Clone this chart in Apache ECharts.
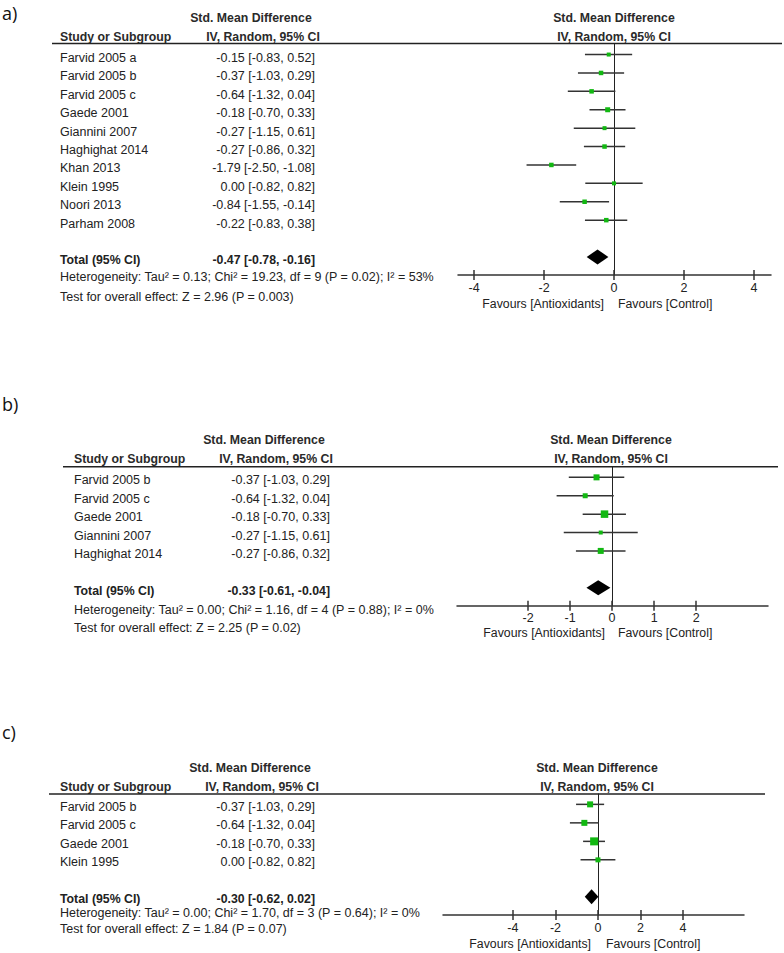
<!DOCTYPE html>
<html><head><meta charset="utf-8">
<script src="https://cdn.jsdelivr.net/npm/echarts@6/dist/echarts.min.js"></script>
<style>html,body{margin:0;padding:0;background:#fff}#c{width:784px;height:953px}</style>
</head><body><div id="c"></div>
<script>
// ---------- Panel a ----------
const studiesA = ['Farvid 2005 a','Farvid 2005 b','Farvid 2005 c','Gaede 2001','Giannini 2007','Haghighat 2014','Khan 2013','Klein 1995','Noori 2013','Parham 2008'];
const smdA   = [-0.15,-0.37,-0.64,-0.18,-0.27,-0.27,-1.79, 0.00,-0.84,-0.22];
const lowerA = [-0.83,-1.03,-1.32,-0.70,-1.15,-0.86,-2.50,-0.82,-1.55,-0.83];
const upperA = [ 0.52, 0.29, 0.04, 0.33, 0.61, 0.32,-1.08, 0.82,-0.14, 0.38];
const boxA   = [4, 4.5, 4.5, 5, 4, 4.5, 4.5, 4, 4.5, 4.5];
const totalA = [-0.47,-0.78,-0.16];
const hetA  = 'Heterogeneity: Tau² = 0.13; Chi² = 19.23, df = 9 (P = 0.02); I² = 53%';
const testA = 'Test for overall effect: Z = 2.96 (P = 0.003)';
const ticksA = [-4,-2,0,2,4];

// ---------- Panel b ----------
const studiesB = ['Farvid 2005 b','Farvid 2005 c','Gaede 2001','Giannini 2007','Haghighat 2014'];
const smdB   = [-0.37,-0.64,-0.18,-0.27,-0.27];
const lowerB = [-1.03,-1.32,-0.70,-1.15,-0.86];
const upperB = [ 0.29, 0.04, 0.33, 0.61, 0.32];
const boxB   = [6, 5, 7.5, 4, 6];
const totalB = [-0.33,-0.61,-0.04];
const hetB  = 'Heterogeneity: Tau² = 0.00; Chi² = 1.16, df = 4 (P = 0.88); I² = 0%';
const testB = 'Test for overall effect: Z = 2.25 (P = 0.02)';
const ticksB = [-2,-1,0,1,2];

// ---------- Panel c ----------
const studiesC = ['Farvid 2005 b','Farvid 2005 c','Gaede 2001','Klein 1995'];
const smdC   = [-0.37,-0.64,-0.18, 0.00];
const lowerC = [-1.03,-1.32,-0.70,-0.82];
const upperC = [ 0.29, 0.04, 0.33, 0.82];
const boxC   = [6, 6, 8, 5];
const totalC = [-0.30,-0.62, 0.02];
const hetC  = 'Heterogeneity: Tau² = 0.00; Chi² = 1.70, df = 3 (P = 0.64); I² = 0%';
const testC = 'Test for overall effect: Z = 1.84 (P = 0.07)';
const ticksC = [-4,-2,0,2,4];

const panelLabels = ['a)','b)','c)'];
const hdr1 = 'Std. Mean Difference';
const hdr2 = 'IV, Random, 95% CI';
const hdrStudy = 'Study or Subgroup';
const totalLabel = 'Total (95% CI)';
const favLeft = 'Favours [Antioxidants]';
const favRight = 'Favours [Control]';

const FONT = '"Liberation Sans", Arial, sans-serif';
const REG = '12.5px ' + FONT;
const BOLD = 'bold 12.3px ' + FONT;
const PLOT = '12.3px ' + FONT;
const TXT = '#222';

const panels = [
  {lab:panelLabels[0], labY:13, studies:studiesA, smd:smdA, lo:lowerA, hi:upperA, box:boxA, total:totalA, het:hetA, test:testA, ticks:ticksA,
   grid:{left:458, right:13, top:43.5, bottom:678}, xMin:-4.46, xMax:4.49, yMin:-0.6, yMax:11.98, totalRow:11,
   textL:60, ciR:315, off:3.5, hdrLX:251, hdrRX:614, hY1:18, hY2:37, ruleX1:52, ruleX2:782, ruleY:43.5,
   hetY:277, testY:297, favY:304, favLX:604, favRX:618},
  {lab:panelLabels[1], labY:404, studies:studiesB, smd:smdB, lo:lowerB, hi:upperB, box:boxB, total:totalB, het:hetB, test:testB, ticks:ticksB,
   grid:{left:457, right:16, top:466.7, bottom:347.3}, xMin:-3.69, xMax:3.71, yMin:-0.58, yMax:6.98, totalRow:6,
   textL:74, ciR:330, off:3, hdrLX:264, hdrRX:611, hY1:440, hY2:459, ruleX1:63, ruleX2:778, ruleY:466.7,
   hetY:610, testY:628, favY:633, favLX:605, favRX:618},
  {lab:panelLabels[2], labY:732, studies:studiesC, smd:smdC, lo:lowerC, hi:upperC, box:boxC, total:totalC, het:hetC, test:testC, ticks:ticksC,
   grid:{left:443, right:40, top:794, bottom:38}, xMin:-7.29, xMax:6.87, yMin:-0.56, yMax:5.98, totalRow:5,
   textL:60, ciR:315, off:2.5, hdrLX:250, hdrRX:597, hY1:768, hY2:786.5, ruleX1:49, ruleX2:765, ruleY:794,
   hetY:913, testY:928.5, favY:944, favLX:591, favRX:606}
];

const fmt = v => v.toFixed(2);
const ciText = (e,l,h) => fmt(e) + ' [' + fmt(l) + ', ' + fmt(h) + ']';

const grids = [], xAxes = [], yAxes = [], series = [], graphic = [];

panels.forEach((p, k) => {
  grids.push(Object.assign({containLabel:false}, p.grid));
  const axisCommon = {type:'value', gridIndex:k, min:p.xMin, max:p.xMax, splitLine:{show:false}};
  xAxes.push(Object.assign({}, axisCommon, {
    position:'bottom',
    axisLine:{show:true, onZero:false, lineStyle:{color:'#333', width:1.5}},
    axisTick:{show:true, inside:false, length:5, customValues:p.ticks, lineStyle:{color:'#333', width:1.5}},
    axisLabel:{show:true, customValues:p.ticks, margin:6, fontSize:12.5, fontFamily:FONT, color:TXT}
  }));
  xAxes.push(Object.assign({}, axisCommon, {
    position:'bottom',
    axisLine:{show:false, onZero:false},
    axisTick:{show:true, inside:true, length:5, customValues:p.ticks, lineStyle:{color:'#333', width:1.5}},
    axisLabel:{show:false}
  }));
  yAxes.push({type:'value', gridIndex:k, inverse:true, min:p.yMin, max:p.yMax,
    axisLine:{show:true, onZero:true, onZeroAxisIndex:2*k, lineStyle:{color:'#222', width:1}},
    axisTick:{show:false}, axisLabel:{show:false}, splitLine:{show:false}});

  const rows = p.studies.map((s,i) => [p.smd[i], i, p.lo[i], p.hi[i]]);
  // CI lines
  series.push({type:'custom', xAxisIndex:2*k, yAxisIndex:k, clip:false, silent:true,
    encode:{x:[0,2,3], y:1}, data:rows,
    renderItem:(params, api) => {
      const a = api.coord([api.value(2), api.value(1)]);
      const b = api.coord([api.value(3), api.value(1)]);
      return {type:'line', shape:{x1:a[0], y1:a[1], x2:b[0], y2:b[1]}, style:{stroke:'#333', lineWidth:1.5}};
    }});
  // Study markers
  series.push({type:'scatter', xAxisIndex:2*k, yAxisIndex:k, silent:true, symbol:'rect',
    data:p.studies.map((s,i) => [p.smd[i], i, p.box[i]]),
    symbolSize: v => v[2], itemStyle:{color:'#12b812', opacity:1}, z:3});
  // Pooled diamond
  series.push({type:'custom', xAxisIndex:2*k, yAxisIndex:k, clip:false, silent:true,
    encode:{x:[0,2,3], y:1}, data:[[p.total[0], p.totalRow, p.total[1], p.total[2]]],
    renderItem:(params, api) => {
      const c = api.coord([api.value(0), api.value(1)]);
      const l = api.coord([api.value(2), api.value(1)]);
      const r = api.coord([api.value(3), api.value(1)]);
      return {type:'polygon', shape:{points:[l, [c[0], c[1]-7.5], r, [c[0], c[1]+7.5]]}, style:{fill:'#000'}};
    }, z:4});
  // Table text, aligned to row positions
  const textRows = p.studies.map((s,i) => [0, i]).concat([[0, p.totalRow]]);
  series.push({type:'custom', xAxisIndex:2*k, yAxisIndex:k, clip:false, silent:true,
    encode:{x:0, y:1}, data:textRows,
    renderItem:(params, api) => {
      const idx = params.dataIndex;
      const y = api.coord([0, api.value(1)])[1] + p.off;
      const isTotal = idx >= p.studies.length;
      const name = isTotal ? totalLabel : p.studies[idx];
      const ci = isTotal ? ciText(p.total[0], p.total[1], p.total[2]) : ciText(p.smd[idx], p.lo[idx], p.hi[idx]);
      const font = isTotal ? BOLD : REG;
      return {type:'group', children:[
        {type:'text', style:{text:name, x:p.textL, y:y, textAlign:'left', textVerticalAlign:'middle', font:font, fill:TXT}},
        {type:'text', style:{text:ci, x:p.ciR, y:y, textAlign:'right', textVerticalAlign:'middle', font:font, fill:TXT}}
      ]};
    }});

  // Static texts and rules
  graphic.push({type:'text', style:{text:p.lab, x:2, y:p.labY, textVerticalAlign:'middle', font:'18px "Open Sans", sans-serif', fill:'#111'}});
  graphic.push({type:'text', style:{text:hdr1, x:p.hdrLX, y:p.hY1, textAlign:'center', textVerticalAlign:'middle', font:BOLD, fill:'#2a2a2a'}});
  graphic.push({type:'text', style:{text:hdr2, x:p.hdrLX+12, y:p.hY2, textAlign:'center', textVerticalAlign:'middle', font:BOLD, fill:'#2a2a2a'}});
  graphic.push({type:'text', style:{text:hdrStudy, x:p.textL, y:p.hY2, textAlign:'left', textVerticalAlign:'middle', font:BOLD, fill:'#2a2a2a'}});
  graphic.push({type:'text', style:{text:hdr1, x:p.hdrRX, y:p.hY1, textAlign:'center', textVerticalAlign:'middle', font:BOLD, fill:'#2a2a2a'}});
  graphic.push({type:'text', style:{text:hdr2, x:p.hdrRX, y:p.hY2, textAlign:'center', textVerticalAlign:'middle', font:BOLD, fill:'#2a2a2a'}});
  graphic.push({type:'line', shape:{x1:p.ruleX1, y1:p.ruleY, x2:p.ruleX2, y2:p.ruleY}, style:{stroke:'#222', lineWidth:1.5}});
  graphic.push({type:'text', style:{text:p.het, x:p.textL, y:p.hetY, textAlign:'left', textVerticalAlign:'middle', font:REG, fill:TXT}});
  graphic.push({type:'text', style:{text:p.test, x:p.textL, y:p.testY, textAlign:'left', textVerticalAlign:'middle', font:REG, fill:TXT}});
  graphic.push({type:'text', style:{text:favLeft, x:p.favLX, y:p.favY, textAlign:'right', textVerticalAlign:'middle', font:PLOT, fill:TXT}});
  graphic.push({type:'text', style:{text:favRight, x:p.favRX, y:p.favY, textAlign:'left', textVerticalAlign:'middle', font:PLOT, fill:TXT}});
});

const chart = echarts.init(document.getElementById('c'), null, {renderer:'svg', width:784, height:953});
chart.setOption({
  animation:false,
  backgroundColor:'#fff',
  grid:grids, xAxis:xAxes, yAxis:yAxes, series:series, graphic:graphic
});
</script>
</body></html>
